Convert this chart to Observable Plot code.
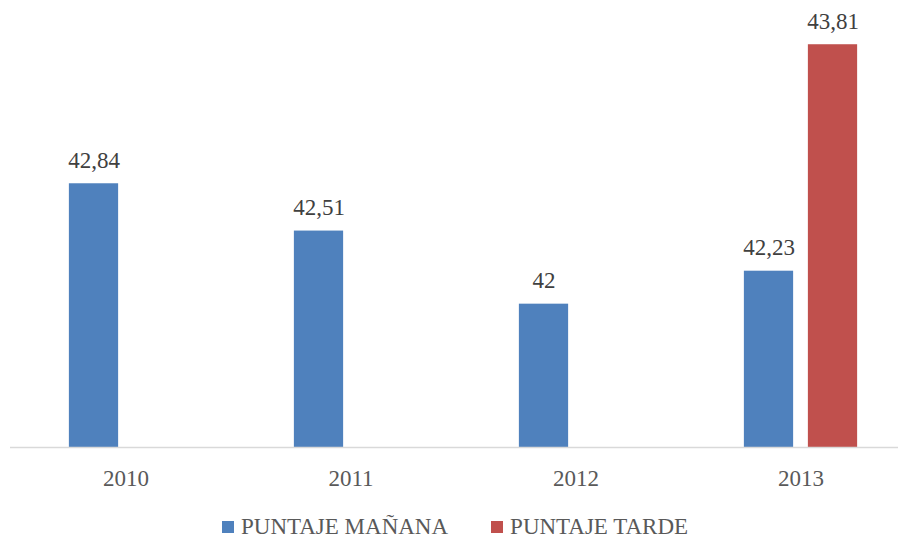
<!DOCTYPE html>
<html>
<head>
<meta charset="utf-8">
<script src="https://cdn.jsdelivr.net/npm/d3@7"></script>
<script src="https://cdn.jsdelivr.net/npm/@observablehq/plot@0.6"></script>
<style>
  html, body { margin: 0; padding: 0; background: #fff; }
  #chart { width: 898px; height: 539px; position: relative; font-family: "Liberation Serif", "Times New Roman", serif; }
  #chart svg text { font-family: "Liberation Serif", "Times New Roman", serif !important; }
  .legend { position: absolute; left: 222px; top: 513px; display: flex; align-items: center; font-size: 23px; line-height: 28px; color: #595959; white-space: nowrap; }
  .legend .item { display: flex; align-items: center; margin-right: 43px; }
  .legend .sw { width: 12px; height: 12px; margin-right: 7px; }
</style>
</head>
<body>
<div id="chart"></div>
<script>
const years = ["2010", "2011", "2012", "2013"];
const series = ["PUNTAJE MAÑANA", "PUNTAJE TARDE"];
const manana = [42.84, 42.51, 42, 42.23];
const tarde = [null, null, null, 43.81];
const colors = ["#4F81BD", "#C0504D"];

const dataM = years.map((y, i) => ({year: y, value: manana[i]})).filter(d => d.value != null);
const dataT = years.map((y, i) => ({year: y, value: tarde[i]})).filter(d => d.value != null);
const fmt = v => String(v).replace(".", ",");
const serif = "Liberation Serif";

const half = 225.75 / 2;
const plot = Plot.plot({
  width: 898,
  height: 505,
  marginLeft: 10,
  marginRight: 0,
  marginTop: 17,
  marginBottom: 58,
  style: {fontFamily: serif, fontSize: "23px", color: "#595959", background: "#fff"},
  x: {domain: years, range: [11, 914], padding: 0, tickSize: 0, tickPadding: 22, label: null},
  y: {domain: [41, 44], axis: null},
  marks: [
    Plot.barY(dataM, {x: "year", y1: 41, y2: "value", fill: colors[0], insetLeft: half - 57, insetRight: half + 7}),
    Plot.barY(dataT, {x: "year", y1: 41, y2: "value", fill: colors[1], insetLeft: half + 7, insetRight: half - 57}),
    Plot.ruleY([41], {stroke: "#D9D9D9", strokeWidth: 1.5}),
    Plot.text(dataM, {x: "year", y: "value", text: d => fmt(d.value), dx: -32, dy: -16, lineAnchor: "bottom", fontSize: 23, fontFamily: serif, fill: "#404040"}),
    Plot.text(dataT, {x: "year", y: "value", text: d => fmt(d.value), dx: 32, dy: -16, lineAnchor: "bottom", fontSize: 23, fontFamily: serif, fill: "#404040"})
  ]
});
const root = document.getElementById("chart");
root.appendChild(plot);
const legend = document.createElement("div");
legend.className = "legend";
series.forEach((s, i) => {
  const it = document.createElement("div");
  it.className = "item";
  const sw = document.createElement("div");
  sw.className = "sw";
  sw.style.background = colors[i];
  const t = document.createElement("span");
  t.textContent = s;
  it.appendChild(sw); it.appendChild(t);
  legend.appendChild(it);
});
root.appendChild(legend);
</script>
</body>
</html>
